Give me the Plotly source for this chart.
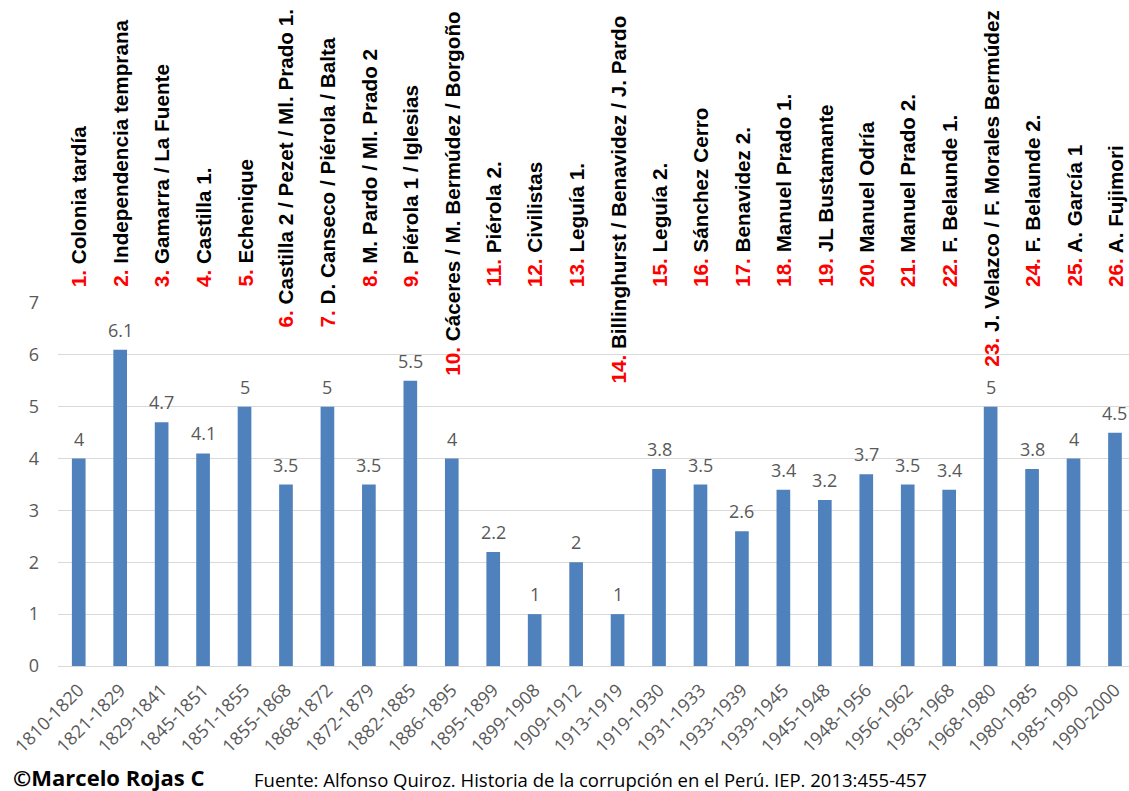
import plotly.graph_objects as go

# ---------------- data ----------------
periods = ["1810-1820", "1821-1829", "1829-1841", "1845-1851", "1851-1855", "1855-1868",
           "1868-1872", "1872-1879", "1882-1885", "1886-1895", "1895-1899", "1899-1908",
           "1909-1912", "1913-1919", "1919-1930", "1931-1933", "1933-1939", "1939-1945",
           "1945-1948", "1948-1956", "1956-1962", "1963-1968", "1968-1980", "1980-1985",
           "1985-1990", "1990-2000"]

values = [4, 6.1, 4.7, 4.1, 5, 3.5, 5, 3.5, 5.5, 4, 2.2, 1, 2, 1, 3.8, 3.5, 2.6,
          3.4, 3.2, 3.7, 3.5, 3.4, 5, 3.8, 4, 4.5]

governments = ["Colonia tardía", "Independencia temprana", "Gamarra / La Fuente", "Castilla 1.",
               "Echenique", "Castilla 2 / Pezet / Ml. Prado 1.", "D. Canseco / Piérola / Balta",
               "M. Pardo / Ml. Prado 2", "Piérola 1 / Iglesias", "Cáceres / M. Bermúdez / Borgoño",
               "Piérola 2.", "Civilistas", "Leguía 1.", "Billinghurst / Benavidez / J. Pardo",
               "Leguía 2.", "Sánchez Cerro", "Benavidez 2.", "Manuel Prado 1.", "JL Bustamante",
               "Manuel Odría", "Manuel Prado 2.", "F. Belaunde 1.", "J. Velazco / F. Morales Bermúdez",
               "F. Belaunde 2.", "A. García 1", "A. Fujimori"]

y_ticks = [0, 1, 2, 3, 4, 5, 6, 7]

author = "©Marcelo Rojas C"
source = "Fuente: Alfonso Quiroz. Historia de la corrupción en el Perú. IEP. 2013:455-457"

# ---------------- style ----------------
BAR_COLOR = "#4F81BD"
GRID = "#D9D9D9"
GRAY = "#595959"
W, H = 1129, 791
M_L, M_R, M_T, M_B = 58, 0, 303, 125
CAT_PX = 41.45
# vertical pixel drop of the long top labels (layout only)
LABEL_DROP = {6: 40, 7: 40, 10: 89, 14: 97, 23: 80}

x_idx = list(range(len(periods)))
x_max = -0.5 + (W - M_L - M_R) / CAT_PX

fig = go.Figure()
fig.add_trace(go.Bar(
    x=x_idx, y=values,
    width=0.33,
    marker=dict(color=BAR_COLOR, line=dict(width=0)),
    hoverinfo="skip",
))

annotations = []
# value labels above bars
for i, v in enumerate(values):
    annotations.append(dict(
        x=i, y=v, xref="x", yref="y",
        text=f"{v:g}", showarrow=False,
        xanchor="center", yanchor="bottom", yshift=7, borderpad=0,
        font=dict(family="Open Sans", size=18, color=GRAY),
    ))

# government labels at the top
for i, name in enumerate(governments):
    n = i + 1
    drop = LABEL_DROP.get(n, 0)
    annotations.append(dict(
        x=i, y=7, xref="x", yref="y",
        text=f"<span style='color:#FF0000'>{n}.</span> {name}",
        textangle=-90,
        xanchor="center", yanchor="bottom",
        yshift=15 - drop,
        showarrow=False,
        font=dict(family="Liberation Sans", size=20.7, color="#000000", weight="bold"),
        borderpad=0,
    ))

footer = [
    dict(x=12, y=H - 777, text=author,
         font=dict(family="Open Sans", size=22, color="#000000", weight="bold")),
    dict(x=253, y=H - 779, text=source,
         font=dict(family="Open Sans", size=18.5, color="#000000")),
]
for f in footer:
    annotations.append(dict(
        x=(f["x"] - M_L) / (W - M_L - M_R), y=(f["y"] - M_B) / (H - M_T - M_B),
        xref="paper", yref="paper", text=f["text"], showarrow=False,
        xanchor="left", yanchor="middle", font=f["font"], borderpad=0,
    ))

fig.update_layout(
    width=W, height=H,
    margin=dict(l=M_L, r=M_R, t=M_T, b=M_B, pad=0),
    paper_bgcolor="white", plot_bgcolor="white",
    showlegend=False,
    annotations=annotations,
    xaxis=dict(
        range=[-0.5, x_max],
        tickmode="array", tickvals=x_idx, ticktext=periods,
        tickangle=-45,
        tickfont=dict(family="Open Sans", size=18, color=GRAY),
        showgrid=False, zeroline=False, showline=False, ticks="",
        ticklabelstandoff=9,
    ),
    yaxis=dict(
        range=[0, 7],
        tickmode="array", tickvals=y_ticks,
        tickfont=dict(family="Open Sans", size=18, color=GRAY),
        showgrid=True, gridcolor=GRID, gridwidth=1.3,
        zeroline=True, zerolinecolor=GRID, zerolinewidth=1.3,
        showline=False, ticks="",
        ticklabelstandoff=18,
    ),
)

fig.write_html(
    "out.html",
    config={"displayModeBar": False},
    post_script="document.body.style.margin='0';document.body.style.overflow='hidden';",
)
